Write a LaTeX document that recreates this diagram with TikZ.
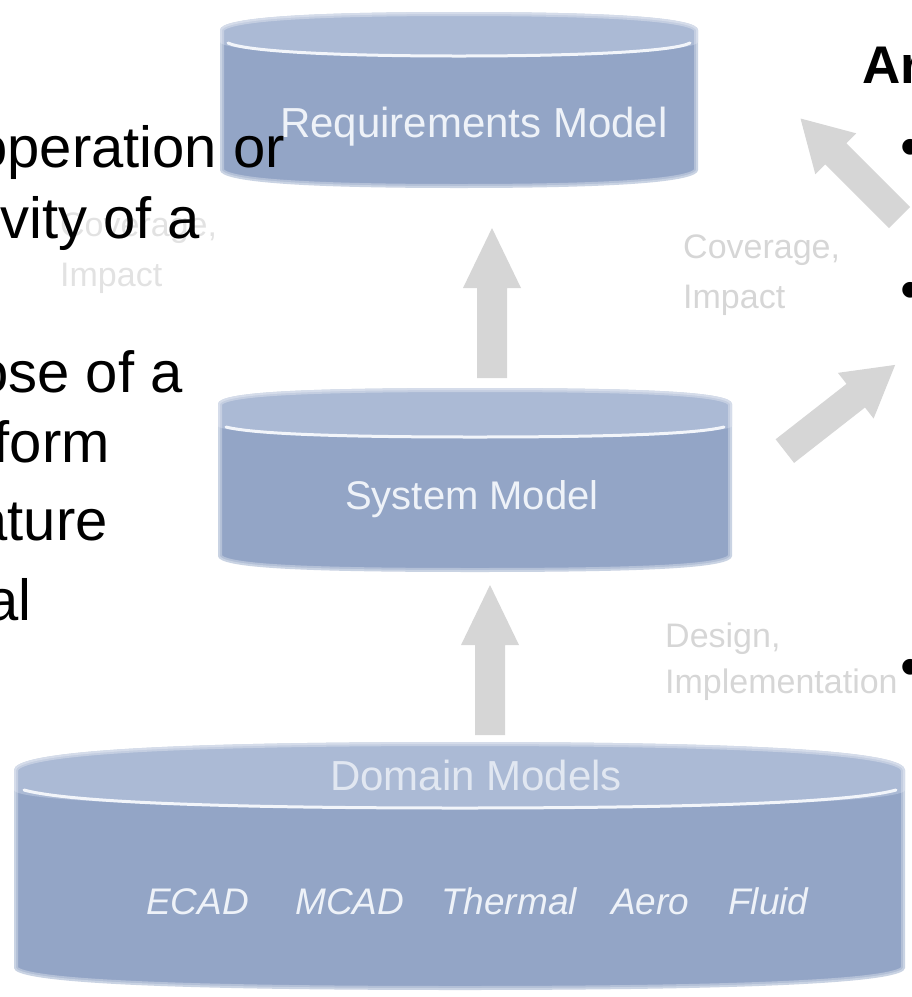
\documentclass[tikz,border=0pt]{standalone}
\usepackage{fontspec}
\setmainfont{Liberation Sans}
\definecolor{tinbody}{HTML}{93A5C6}
\definecolor{tinband}{HTML}{ABBAD5}
\definecolor{tinrim}{HTML}{F2F5FA}
\definecolor{tintext}{HTML}{EEF2F8}
\definecolor{faintgray}{HTML}{D6D6D6}
\definecolor{palegray}{HTML}{E2E2E2}
\tikzset{
  tinbody/.style={fill=tinbody},
  tinband/.style={fill=tinband},
  tinrim/.style={draw=tinrim, line width=3pt, line cap=round},
  tinfuzz/.style={draw=white, line width=#1, opacity=.3},
  faintarrow/.style={fill=faintgray},
  faintlabel/.style={font=\fontsize{34}{34}\selectfont, text=faintgray, inner sep=0pt, anchor=base west},
  slidetext/.style={font=\fontsize{58}{58}\selectfont, text=black, inner sep=0pt},
  tinlabel/.style={font=\fontsize{42}{42}\selectfont, text=tintext, inner sep=0pt, anchor=base west},
  domainlabel/.style={font=\fontsize{37}{37}\selectfont\itshape, text=tintext, inner sep=0pt, anchor=base west},
  bulletmark/.style={font=\fontsize{58}{58}\selectfont, text=black, inner sep=0pt, anchor=base},
}
% block arrow pointing along +x in local coordinates
\newcommand\blockarrow[5]{% centre x, centre y, angle, length, head length
  \begin{scope}[shift={(#1,#2)}, rotate=#3]
    \fill[faintarrow] (-#4/2,-15) -- (#4/2-#5,-15) -- (#4/2-#5,-29) -- (#4/2,0)
      -- (#4/2-#5,29) -- (#4/2-#5,15) -- (-#4/2,15) -- cycle;
  \end{scope}}
% soft white edge round a tin outline
\newcommand\tinedge[1]{%
  \draw[tinfuzz=8pt] #1;
  \draw[tinfuzz=4pt] #1;}
\begin{document}
\begin{tikzpicture}[x=1pt,y=-1pt]
\useasboundingbox (0,0) rectangle (912,997);
\begin{scope}
\clip (0,0) rectangle (912,997);

% ---- requirements tin ----
\def\reqoutline{(220,30) .. controls (220,18) and (300,12) .. (459,12) .. controls (618,12) and (698,18) .. (698,30)
  -- (698,170) .. controls (698,182) and (618,188) .. (459,188) .. controls (300,188) and (220,182) .. (220,170) -- cycle}
\path[tinbody] \reqoutline;
\path[tinband] (220,30) .. controls (220,18) and (300,12) .. (459,12) .. controls (618,12) and (698,18) .. (698,30)
  -- (698,42) .. controls (698,50) and (600,56) .. (459,56) .. controls (318,56) and (220,50) .. (220,42) -- cycle;
\draw[tinrim] (228,43) .. controls (245,51) and (330,56) .. (459,56) .. controls (588,56) and (675,51) .. (690,43);
\tinedge{\reqoutline}
\node[tinlabel] (reqtext) at (280,137) {Requirements Model};

% ---- system tin ----
\def\sysoutline{(218,404) .. controls (218,392) and (300,388) .. (475,388) .. controls (650,388) and (732,392) .. (732,404)
  -- (732,556) .. controls (732,568) and (650,572) .. (475,572) .. controls (300,572) and (218,568) .. (218,556) -- cycle}
\path[tinbody] \sysoutline;
\path[tinband] (218,404) .. controls (218,392) and (300,388) .. (475,388) .. controls (650,388) and (732,392) .. (732,404)
  -- (732,426) .. controls (732,432) and (640,437) .. (475,437) .. controls (310,437) and (218,432) .. (218,426) -- cycle;
\draw[tinrim] (226,427) .. controls (250,433) and (320,437) .. (475,437) .. controls (630,437) and (700,433) .. (724,427);
\tinedge{\sysoutline}
\node[tinlabel, font=\fontsize{40}{40}\selectfont] (systext) at (345,509) {System Model};

% ---- domain tin ----
\def\domoutline{(14,770) .. controls (14,752) and (150,742) .. (460,742) .. controls (770,742) and (905,752) .. (905,770)
  -- (905,968) .. controls (905,982) and (770,990) .. (460,990) .. controls (150,990) and (14,982) .. (14,968) -- cycle}
\path[tinbody] \domoutline;
\path[tinband] (14,770) .. controls (14,752) and (150,742) .. (460,742) .. controls (770,742) and (905,752) .. (905,770)
  -- (905,790) .. controls (905,800) and (760,808) .. (460,808) .. controls (160,808) and (14,800) .. (14,790) -- cycle;
\draw[tinrim] (24,790) .. controls (60,800) and (180,808) .. (460,808) .. controls (740,808) and (860,800) .. (896,790);
\tinedge{\domoutline}
\node[tinlabel, text=tintext!80!tinband] (domtext) at (330,790) {Domain Models};
\node[domainlabel] (ecad) at (146,914) {ECAD};
\node[domainlabel] (mcad) at (295,914) {MCAD};
\node[domainlabel] (thermal) at (441,914) {Thermal};
\node[domainlabel] (aero) at (611,914) {Aero};
\node[domainlabel] (fluid) at (728,914) {Fluid};

% ---- faint block arrows ----
\blockarrow{492}{303}{90}{150}{60}
\blockarrow{490}{660}{90}{150}{60}
\blockarrow{850}{168}{135}{140}{50}
\blockarrow{840}{408}{38}{140}{50}

% ---- faint labels ----
\node[faintlabel, text=palegray] (covl) at (60,236) {Coverage,};
\node[faintlabel, text=palegray] (impl) at (60,286) {Impact};
\node[faintlabel] (covr) at (683,258) {Coverage,};
\node[faintlabel] (impr) at (683,308) {Impact};
\node[faintlabel] (design) at (665,647) {Design,};
\node[faintlabel] (implem) at (665,693) {Implementation};

% ---- slide text ----
\node[slidetext, anchor=base east] (l1) at (285,167) {operation or};
\node[slidetext, anchor=base west] (l2) at (0,238) {vity of a};
\node[slidetext, anchor=base east] (l3) at (183,392) {ose of a};
\node[slidetext, anchor=base east] (l4) at (110,462) {form};
\node[slidetext, anchor=base east] (l5) at (108,540) {ature};
\node[slidetext, anchor=base east] (l6) at (32,620) {al};
\node[slidetext, font=\fontsize{53}{53}\selectfont\bfseries, anchor=base west] (head) at (862,83) {Ar};
\node[bulletmark] (b1) at (911,166) {•};
\node[bulletmark] (b2) at (911,309) {•};
\node[bulletmark] (b3) at (911,686) {•};
\end{scope}
\end{tikzpicture}
\end{document}
